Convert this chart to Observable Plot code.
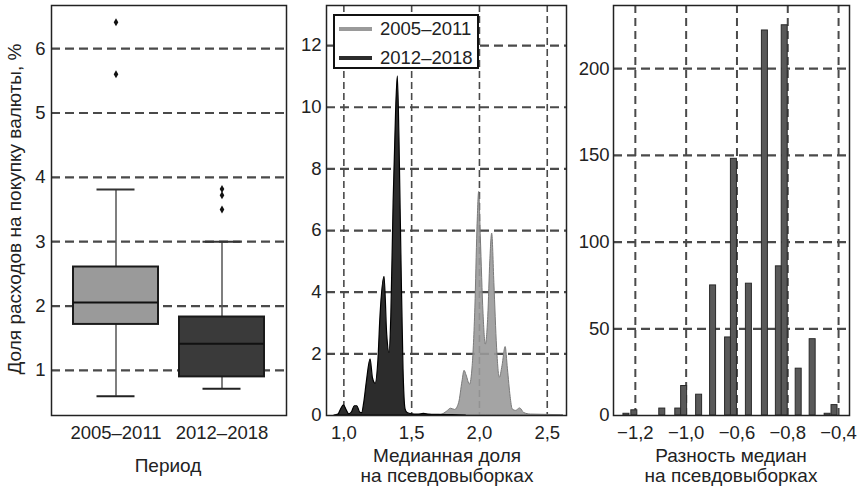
<!DOCTYPE html>
<html><head><meta charset="utf-8">
<script src="https://cdn.jsdelivr.net/npm/d3@7"></script>
<script src="https://cdn.jsdelivr.net/npm/@observablehq/plot@0.6"></script>
<style>
body{margin:0;background:#fff;}
#wrap{position:relative;width:862px;height:486px;overflow:hidden;font-family:"Liberation Sans",Arial,sans-serif;color:#222;}
.panel{position:absolute;top:0;}
.title{position:absolute;font-size:19px;text-align:center;white-space:nowrap;line-height:20px;transform:translateX(-50%);}
.ylab{position:absolute;font-size:19px;white-space:nowrap;transform:translate(-50%,-50%) rotate(-90deg);}
.legend{position:absolute;width:142px;height:51px;border:2px solid #111;background:#fff;font-size:18.5px;}
.legend .row{position:absolute;left:0;height:22px;line-height:22px;}
.legend .sw{position:absolute;left:4px;top:9px;width:33px;height:4px;}
.legend .tx{position:absolute;left:45px;top:0;white-space:nowrap;}
</style>
</head><body>
<div id="wrap"></div>
<script>
// ---------- data ----------
const periods = ["2005–2011", "2012–2018"];
const boxQ1 = [1.715, 0.90];
const boxMedian = [2.057, 1.415];
const boxQ3 = [2.607, 1.83];
const whiskerLow = [0.60, 0.715];
const whiskerHigh = [3.81, 3.0];
const boxFills = ["#9a9a9a", "#3a3a3a"];
const outlierPeriod = ["2005–2011", "2005–2011", "2012–2018", "2012–2018", "2012–2018"];
const outlierValue = [6.41, 5.60, 3.82, 3.72, 3.50];
const leftYTicks = [1, 2, 3, 4, 5, 6];

// density of medians, 2005–2011
const grayX = [1.68, 1.72, 1.76, 1.79, 1.82, 1.85, 1.875, 1.89, 1.905, 1.93, 1.95, 1.97, 1.985, 1.998, 2.01, 2.03, 2.047, 2.065, 2.08, 2.094, 2.11, 2.13, 2.15, 2.17, 2.193, 2.21, 2.23, 2.245, 2.27, 2.30, 2.33, 2.38, 2.5, 2.6, 2.62];
const grayY = [0, 0.02, 0.12, 0.22, 0.18, 0.4, 1.1, 1.45, 1.3, 1.0, 1.6, 3.5, 6.0, 7.25, 5.8, 3.3, 2.3, 3.2, 5.0, 5.9, 4.3, 2.2, 1.22, 1.6, 2.22, 1.5, 0.6, 0.2, 0.15, 0.23, 0.08, 0.03, 0.02, 0.01, 0];
// density of medians, 2012–2018
const darkX = [0.93, 0.96, 0.98, 1.0, 1.02, 1.04, 1.06, 1.08, 1.10, 1.12, 1.135, 1.15, 1.17, 1.197, 1.215, 1.234, 1.255, 1.27, 1.30, 1.32, 1.337, 1.35, 1.367, 1.385, 1.398, 1.41, 1.425, 1.44, 1.455, 1.47, 1.5, 1.55, 1.59, 1.63, 1.7, 1.8, 1.9];
const darkY = [0, 0.03, 0.2, 0.33, 0.18, 0.04, 0.1, 0.3, 0.3, 0.1, 0.08, 0.4, 1.1, 1.82, 1.2, 1.03, 1.8, 3.2, 4.5, 2.6, 2.03, 3.2, 6.9, 9.8, 11.0, 9.0, 5.0, 1.5, 0.2, 0.08, 0.04, 0.03, 0.05, 0.03, 0.02, 0.01, 0];
const midXTicks = [1.0, 1.5, 2.0, 2.5];
const midYTicks = [0, 2, 4, 6, 8, 10, 12];
const legendLabels = ["2005–2011", "2012–2018"];
const densityColors = ["#9a9a9a", "#2c2c2c"];

// histogram of median differences
const diffCenters = [-1.235, -1.204, -1.094, -1.031, -1.008, -0.949, -0.894, -0.835, -0.812, -0.753, -0.690, -0.635, -0.612, -0.557, -0.502, -0.443, -0.416];
const diffCounts = [1, 3, 4, 4, 17, 12, 75, 45, 148, 76, 222, 86, 225, 27, 44, 1, 6];
const rightXTicks = [-1.2, -1.0, -0.8, -0.6, -0.4];
const rightXTickLabels = ["−1,2", "−1,0", "−0,6", "−0,8", "−0,4"];
const rightYTicks = [0, 50, 100, 150, 200];

// ---------- build tables ----------
const boxes = periods.map((p, i) => ({period: p, q1: boxQ1[i], median: boxMedian[i], q3: boxQ3[i], lo: whiskerLow[i], hi: whiskerHigh[i], fill: boxFills[i]}));
const outliers = outlierValue.map((v, i) => ({period: outlierPeriod[i], value: v}));
const gray = grayX.map((x, i) => ({x, y: grayY[i]}));
const dark = darkX.map((x, i) => ({x, y: darkY[i]}));
const bars = diffCenters.map((c, i) => ({c, n: diffCounts[i]}));
const barHalf = 0.0118;

const font = '"Liberation Sans", Arial, sans-serif';
const baseStyle = {fontSize: "18.5px", fontFamily: font, color: "#222", background: "transparent", overflow: "visible"};
const dashH = {stroke: "#4a4a4a", strokeWidth: 2.2, strokeDasharray: "9,5"};
const dashV = {stroke: "#4a4a4a", strokeWidth: 1.6, strokeDasharray: "7,4"};
const frameStyle = {stroke: "#222", strokeWidth: 1.5};
const comma = d => d3.format(".1f")(d).replace(".", ",");

const tallDiamond = {draw(ctx, size) { const w = 2.3, h = 4; ctx.moveTo(0, -h); ctx.lineTo(w, 0); ctx.lineTo(0, h); ctx.lineTo(-w, 0); ctx.closePath(); }};

const left = Plot.plot({
  width: 290, height: 486, marginLeft: 51, marginRight: 4, marginTop: 5, marginBottom: 71,
  style: baseStyle,
  x: {type: "band", domain: periods, padding: 0.2, label: null, tickSize: 0, tickPadding: 10},
  y: {domain: [0.3, 6.67], ticks: leftYTicks, tickFormat: d3.format("d"), label: null, tickSize: 0, tickPadding: 6},
  marks: [
    Plot.ruleY(leftYTicks, dashH),
    Plot.ruleX(boxes, {x: "period", y1: "lo", y2: "q1", stroke: "#555", strokeWidth: 1.5}),
    Plot.ruleX(boxes, {x: "period", y1: "q3", y2: "hi", stroke: "#555", strokeWidth: 1.5}),
    Plot.tickY(boxes, {x: "period", y: "lo", insetLeft: 23.5, insetRight: 23.5, stroke: "#222", strokeWidth: 2}),
    Plot.tickY(boxes, {x: "period", y: "hi", insetLeft: 23.5, insetRight: 23.5, stroke: "#333", strokeWidth: 2}),
    Plot.barY(boxes, {x: "period", y1: "q1", y2: "q3", fill: d => d.fill, stroke: "#1a1a1a", strokeWidth: 2}),
    Plot.tickY(boxes, {x: "period", y: "median", stroke: "#111", strokeWidth: 2}),
    Plot.dot(outliers, {x: "period", y: "value", symbol: tallDiamond, r: 3, fill: "#111", stroke: null}),
    Plot.frame(frameStyle)
  ]
});

const mid = Plot.plot({
  width: 278, height: 486, marginLeft: 36, marginRight: 2, marginTop: 5, marginBottom: 71,
  style: baseStyle,
  x: {domain: [0.872, 2.642], ticks: midXTicks, tickFormat: comma, label: null, tickSize: 0, tickPadding: 10},
  y: {domain: [0, 13.3], ticks: midYTicks, tickFormat: d3.format("d"), label: null, tickSize: 0, tickPadding: 5},
  marks: [
    Plot.ruleY(midYTicks.filter(d => d > 0), dashH),
    Plot.ruleX(midXTicks, dashV),
    Plot.areaY(gray, {x: "x", y: "y", fill: densityColors[0], fillOpacity: 0.9, stroke: "#7a7a7a", strokeWidth: 1, curve: "monotone-x"}),
    Plot.areaY(dark, {x: "x", y: "y", fill: densityColors[1], stroke: "#000", strokeWidth: 1.2, curve: "monotone-x"}),
    Plot.frame(frameStyle)
  ]
});

const right = Plot.plot({
  width: 294, height: 486, marginLeft: 45, marginRight: 13, marginTop: 5, marginBottom: 71,
  style: baseStyle,
  x: {domain: [-1.286, -0.357], ticks: rightXTicks, tickFormat: d => rightXTickLabels[rightXTicks.indexOf(d)], label: null, tickSize: 0, tickPadding: 10},
  y: {domain: [0, 236.4], ticks: rightYTicks, tickFormat: d3.format("d"), label: null, tickSize: 0, tickPadding: 4},
  marks: [
    Plot.ruleY(rightYTicks.filter(d => d > 0), dashH),
    Plot.ruleX(rightXTicks, {stroke: "#4a4a4a", strokeWidth: 2, strokeDasharray: "8,5"}),
    Plot.rectY(bars, {x1: d => d.c - barHalf, x2: d => d.c + barHalf, y: "n", fill: "#595959", stroke: "#2a2a2a", strokeWidth: 1}),
    Plot.frame(frameStyle)
  ]
});

const wrap = document.getElementById("wrap");
function place(node, x) { const d = document.createElement("div"); d.className = "panel"; d.style.left = x + "px"; d.appendChild(node); wrap.appendChild(d); }
place(left, 0);
place(mid, 290);
place(right, 568);

function addDiv(cls, html, x, y) { const d = document.createElement("div"); d.className = cls; d.innerHTML = html; d.style.left = x + "px"; d.style.top = y + "px"; wrap.appendChild(d); return d; }
addDiv("ylab", "Доля расходов на покупку валюты, %", 15, 209);
addDiv("title", "Период", 168, 456);
addDiv("title", "Медианная доля<br>на псевдовыборках", 447, 446);
addDiv("title", "Разность медиан<br>на псевдовыборках", 731, 446);

const leg = addDiv("legend", "", 333, 14);
legendLabels.forEach((lab, i) => {
  const r = document.createElement("div"); r.className = "row"; r.style.top = (2 + i * 29) + "px"; r.style.width = "100%";
  r.innerHTML = `<div class="sw" style="background:${densityColors[i]}"></div><div class="tx">${lab}</div>`;
  leg.appendChild(r);
});
</script>
</body></html>
